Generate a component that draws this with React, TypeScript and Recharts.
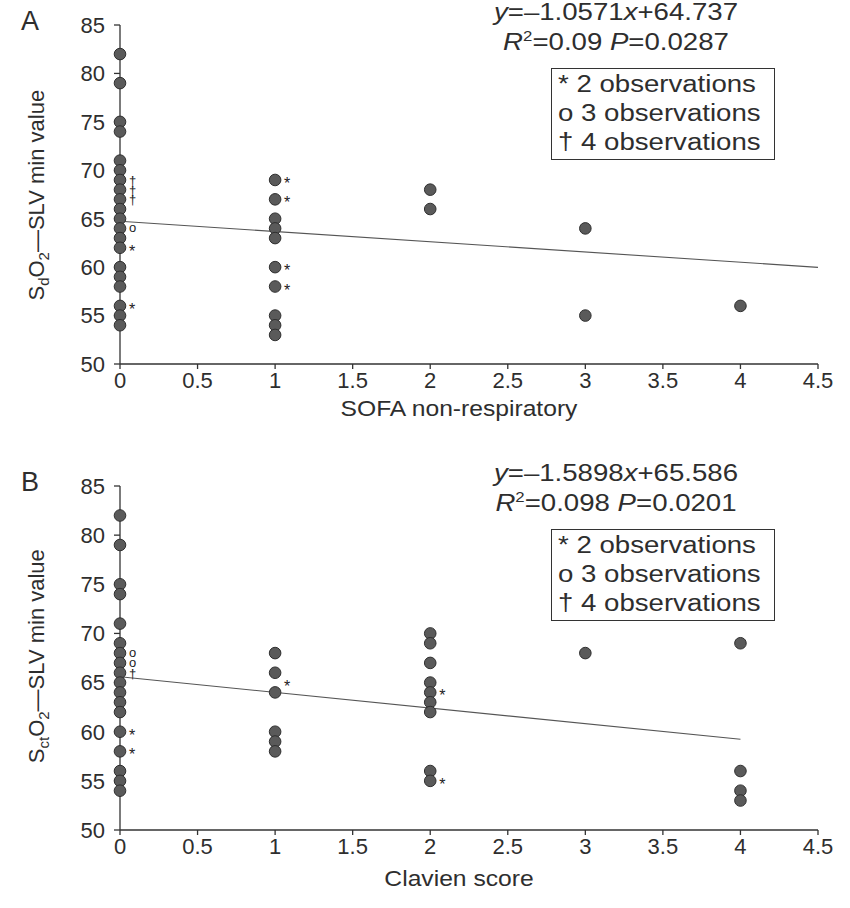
import React from 'react';
import { ScatterChart, Scatter, XAxis, YAxis, ReferenceLine } from 'recharts';

// ---- data ----
const xTicks = [0, 0.5, 1, 1.5, 2, 2.5, 3, 3.5, 4, 4.5];
const yTicks = [50, 55, 60, 65, 70, 75, 80, 85];

// Panel A: SOFA non-respiratory vs SdO2-SLV min value
const sofaX = [
  0, 0, 0, 0, 0, 0, 0, 0, 0, 0, 0, 0, 0, 0, 0, 0, 0, 0, 0, 0,
  1, 1, 1, 1, 1, 1, 1, 1, 1, 1,
  2, 2,
  3, 3,
  4,
];
const sdo2Min = [
  82, 79, 75, 74, 71, 70, 69, 68, 67, 66, 65, 64, 63, 62, 60, 59, 58, 56, 55, 54,
  69, 67, 65, 64, 63, 60, 58, 55, 54, 53,
  68, 66,
  64, 55,
  56,
];
const annotAX = [0, 0, 0, 0, 0, 0, 1, 1, 1, 1];
const annotAY = [69, 68, 67, 64, 62, 56, 69, 67, 60, 58];
const annotASym = ['†', '†', '†', 'o', '*', '*', '*', '*', '*', '*'];
const regA = [-1.0571, 64.737, 4.5]; // slope, intercept, x end

// Panel B: Clavien score vs SctO2-SLV min value
const clavienX = [
  0, 0, 0, 0, 0, 0, 0, 0, 0, 0, 0, 0, 0, 0, 0, 0, 0, 0,
  1, 1, 1, 1, 1, 1,
  2, 2, 2, 2, 2, 2, 2, 2, 2,
  3,
  4, 4, 4, 4,
];
const sctO2Min = [
  82, 79, 75, 74, 71, 69, 68, 67, 66, 65, 64, 63, 62, 60, 58, 56, 55, 54,
  68, 66, 64, 60, 59, 58,
  70, 69, 67, 65, 64, 63, 62, 56, 55,
  68,
  69, 56, 54, 53,
];
const annotBX = [0, 0, 0, 0, 0, 1, 2, 2];
const annotBY = [68, 67, 66, 60, 58, 65, 64, 55];
const annotBSym = ['o', 'o', '†', '*', '*', '*', '*', '*'];
const regB = [-1.5898, 65.586, 4];

// ---- helpers ----
const FONT = '"Liberation Sans", Arial, Helvetica, sans-serif';
const TXT = '#2e2e2e';

const toPoints = (xs: number[], ys: number[]) => xs.map((x, i) => ({ x, y: ys[i] }));
const toAnnots = (xs: number[], ys: number[], ss: string[]) =>
  xs.map((x, i) => ({ x, y: ys[i], s: ss[i] }));

const Dot = (p: any) => (
  <circle cx={p.cx} cy={p.cy} r={5.8} fill="#5a5a5a" stroke="#2f2f2f" strokeWidth={1} />
);

const Annot = (p: any) => {
  const s = p.payload.s;
  const dy = s === '*' ? 9 : s === 'o' ? 4 : 5;
  return (
    <text x={p.cx + 9} y={p.cy + dy} fontSize={s === '*' ? 16 : 13} fill="#222" fontFamily={FONT}>
      {s}
    </text>
  );
};

const fmt = (v: number) => String(v);

function Panel({
  xs, ys, ax, ay, as, reg, height,
}: { xs: number[]; ys: number[]; ax: number[]; ay: number[]; as: string[]; reg: number[]; height: number }) {
  const pts = toPoints(xs, ys);
  const ann = toAnnots(ax, ay, as);
  const [m, b, xe] = reg;
  return (
    <ScatterChart width={850} height={height} margin={{ top: 25, right: 32, bottom: 46, left: 70 }}>
      <XAxis
        type="number"
        dataKey="x"
        domain={[0, 4.5]}
        ticks={xTicks}
        tickFormatter={fmt}
        height={30}
        tickSize={5}
        tickMargin={3}
        stroke="#333"
        strokeWidth={1.3}
        tick={{ fill: TXT, fontSize: 22, fontFamily: FONT }}
      />
      <YAxis
        type="number"
        dataKey="y"
        domain={[50, 85]}
        ticks={yTicks}
        width={50}
        tickSize={6}
        tickMargin={9}
        stroke="#333"
        strokeWidth={1.3}
        tick={{ fill: TXT, fontSize: 22, fontFamily: FONT }}
      />
      <ReferenceLine
        segment={[{ x: 0, y: b }, { x: xe, y: b + m * xe }]}
        stroke="#555"
        strokeWidth={1.1}
      />
      <Scatter data={pts} shape={Dot} isAnimationActive={false} />
      <Scatter data={ann} shape={Annot} isAnimationActive={false} />
    </ScatterChart>
  );
}

const abs = (s: React.CSSProperties): React.CSSProperties => ({ position: 'absolute', ...s });

function Overlay({ top, letter, sub, eq, r2 }: { top: number; letter: string; sub: string; eq: string[]; r2: string[] }) {
  const stretch = 'scaleX(1.2)';
  return (
    <>
      <div style={abs({ left: 21, top: top + 6, fontSize: 27, fontFamily: FONT, color: TXT })}>{letter}</div>
      <div
        style={abs({
          left: 38 - 150,
          top: top + 195 - 14,
          width: 300,
          textAlign: 'center',
          fontSize: 22,
          fontFamily: FONT,
          color: TXT,
          transform: 'rotate(-90deg)',
          whiteSpace: 'nowrap',
        })}
      >
        S<sub style={{ fontSize: 15 }}>{sub}</sub>O<sub style={{ fontSize: 15 }}>2</sub>—SLV min value
      </div>
      <div
        style={abs({
          left: 466,
          top: top - 3,
          width: 300,
          textAlign: 'center',
          fontSize: 23,
          fontFamily: FONT,
          color: TXT,
          lineHeight: '30px',
          transform: stretch,
          whiteSpace: 'nowrap',
        })}
      >
        <div>
          <i>y</i>={eq[0]}<i>x</i>+{eq[1]}
        </div>
        <div>
          <i>R</i>
          <sup style={{ fontSize: 14, lineHeight: 0 }}>2</sup>={r2[0]} <i>P</i>={r2[1]}
        </div>
      </div>
      <div
        style={abs({
          left: 551,
          top: top + 68,
          width: 224,
          height: 92,
          border: '1.5px solid #333',
          boxSizing: 'border-box',
        })}
      />
      <div
        style={abs({
          left: 558,
          top: top + 70,
          fontSize: 23,
          fontFamily: FONT,
          color: TXT,
          lineHeight: '29px',
          transform: stretch,
          transformOrigin: 'left top',
          whiteSpace: 'nowrap',
        })}
      >
        <div>* 2 observations</div>
        <div>o 3 observations</div>
        <div>† 4 observations</div>
      </div>
    </>
  );
}

const titleStyle = (top: number): React.CSSProperties =>
  abs({
    left: 110,
    top,
    width: 698,
    textAlign: 'center',
    fontSize: 22,
    fontFamily: FONT,
    color: TXT,
    transform: 'scaleX(1.12)',
    whiteSpace: 'nowrap',
  });

export default function App() {
  return (
    <div style={{ position: 'absolute', left: 0, top: 0, width: 850, height: 908, background: '#fff', overflow: 'hidden' }}>
      <div style={abs({ left: 0, top: 0 })}>
        <Panel xs={sofaX} ys={sdo2Min} ax={annotAX} ay={annotAY} as={annotASym} reg={regA} height={440} />
      </div>
      <div style={abs({ left: 0, top: 461 })}>
        <Panel xs={clavienX} ys={sctO2Min} ax={annotBX} ay={annotBY} as={annotBSym} reg={regB} height={445} />
      </div>
      <Overlay top={0} letter="A" sub="d" eq={['–1.0571', '64.737']} r2={['0.09', '0.0287']} />
      <Overlay top={461} letter="B" sub="ct" eq={['–1.5898', '65.586']} r2={['0.098', '0.0201']} />
      <div style={titleStyle(396)}>SOFA non-respiratory</div>
      <div style={titleStyle(866)}>Clavien score</div>
    </div>
  );
}
